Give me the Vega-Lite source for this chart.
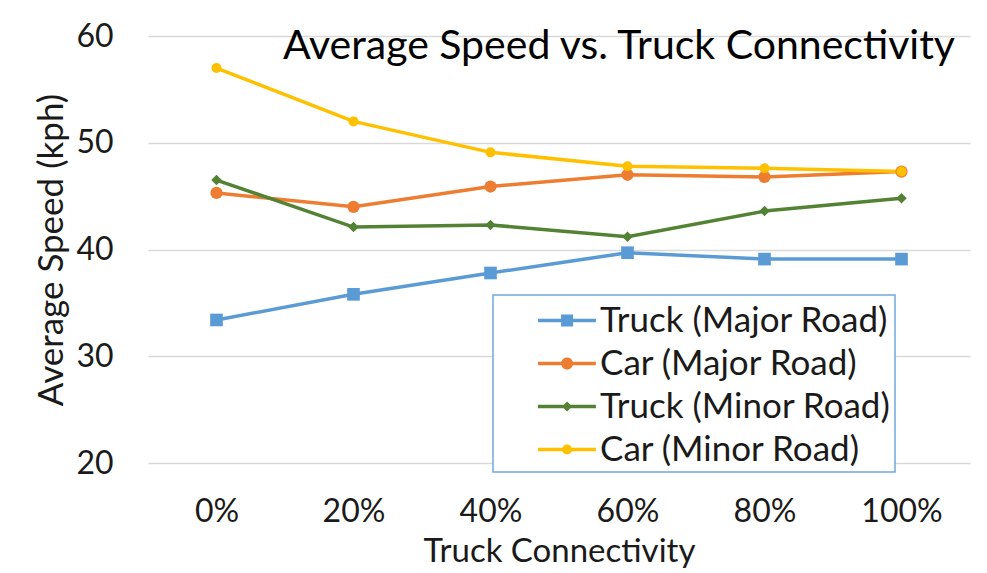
{
  "$schema": "https://vega.github.io/schema/vega-lite/v6.json",
  "width": 822,
  "height": 427,
  "autosize": "none",
  "padding": {"left": 148, "top": 36, "right": 17, "bottom": 110},
  "background": "white",
  "config": {
    "font": "Lato",
    "view": {"stroke": null},
    "legend": {"strokeColor": "#6fa8dc", "strokeWidth": 1.5}
  },
  "title": {
    "text": "Average Speed vs. Truck Connectivity",
    "anchor": "end",
    "fontSize": 41,
    "fontWeight": "normal",
    "color": "#000000",
    "baseline": "alphabetic",
    "offset": -24,
    "dy": 56,
    "dx": -15
  },
  "data": {
    "values": [
      {"conn": "0%", "series": "Truck (Major Road)", "speed": 33.4},
      {"conn": "20%", "series": "Truck (Major Road)", "speed": 35.8},
      {"conn": "40%", "series": "Truck (Major Road)", "speed": 37.8},
      {"conn": "60%", "series": "Truck (Major Road)", "speed": 39.7},
      {"conn": "80%", "series": "Truck (Major Road)", "speed": 39.1},
      {"conn": "100%", "series": "Truck (Major Road)", "speed": 39.1},
      {"conn": "0%", "series": "Car (Major Road)", "speed": 45.3},
      {"conn": "20%", "series": "Car (Major Road)", "speed": 44.0},
      {"conn": "40%", "series": "Car (Major Road)", "speed": 45.9},
      {"conn": "60%", "series": "Car (Major Road)", "speed": 47.0},
      {"conn": "80%", "series": "Car (Major Road)", "speed": 46.8},
      {"conn": "100%", "series": "Car (Major Road)", "speed": 47.3},
      {"conn": "0%", "series": "Truck (Minor Road)", "speed": 46.5},
      {"conn": "20%", "series": "Truck (Minor Road)", "speed": 42.1},
      {"conn": "40%", "series": "Truck (Minor Road)", "speed": 42.3},
      {"conn": "60%", "series": "Truck (Minor Road)", "speed": 41.2},
      {"conn": "80%", "series": "Truck (Minor Road)", "speed": 43.6},
      {"conn": "100%", "series": "Truck (Minor Road)", "speed": 44.8},
      {"conn": "0%", "series": "Car (Minor Road)", "speed": 57.0},
      {"conn": "20%", "series": "Car (Minor Road)", "speed": 52.0},
      {"conn": "40%", "series": "Car (Minor Road)", "speed": 49.1},
      {"conn": "60%", "series": "Car (Minor Road)", "speed": 47.8},
      {"conn": "80%", "series": "Car (Minor Road)", "speed": 47.6},
      {"conn": "100%", "series": "Car (Minor Road)", "speed": 47.3}
    ]
  },
  "encoding": {
    "x": {
      "field": "conn",
      "type": "ordinal",
      "sort": ["0%", "20%", "40%", "60%", "80%", "100%"],
      "scale": {"type": "point", "padding": 0.5},
      "axis": {
        "title": "Truck Connectivity",
        "titleFontSize": 33,
        "titleFontWeight": "normal",
        "titleColor": "#1a1a1a",
        "titlePadding": 8,
        "labelFontSize": 32,
        "labelColor": "#1a1a1a",
        "labelAngle": 0,
        "labelPadding": 33,
        "domain": false,
        "ticks": false,
        "grid": false
      }
    },
    "y": {
      "field": "speed",
      "type": "quantitative",
      "scale": {"domain": [20, 60], "nice": false, "zero": false},
      "axis": {
        "values": [20, 30, 40, 50, 60],
        "title": "Average Speed (kph)",
        "titleFontSize": 35,
        "titleFontWeight": "normal",
        "titleColor": "#1a1a1a",
        "titlePadding": 6,
        "labelFontSize": 32,
        "labelColor": "#1a1a1a",
        "labelPadding": 35,
        "domain": false,
        "ticks": false,
        "grid": true,
        "gridColor": "#d9d9d9",
        "gridWidth": 1.5
      }
    },
    "color": {
      "field": "series",
      "type": "nominal",
      "scale": {
        "domain": ["Truck (Major Road)", "Car (Major Road)", "Truck (Minor Road)", "Car (Minor Road)"],
        "range": ["#5b9bd5", "#ed7d31", "#548235", "#ffc000"]
      },
      "legend": {
        "title": null,
        "orient": "none",
        "legendX": 345,
        "legendY": 259,
        "direction": "vertical",
        "strokeColor": "#6fa8dc",
        "fillColor": "white",
        "padding": 4,
        "labelFontSize": 35,
        "labelColor": "#1a1a1a",
        "labelLimit": 600,
        "labelOffset": 60,
        "symbolSize": 1849,
        "rowPadding": 3,
        "encode": {
          "legend": {
            "update": {
              "stroke": {"value": "#6fa8dc"},
              "strokeWidth": {"value": 1.5}
            }
          },
          "symbols": {
            "update": {
              "shape": {"signal": "datum.value === 'Truck (Major Road)' ? 'M0.907,-0.08H3.6V0.08H0.907Z M1.98,-0.28H2.54V0.28H1.98Z' : datum.value === 'Car (Major Road)' ? 'M0.907,-0.08H3.6V0.08H0.907Z M1.98,0A0.28,0.28 0 1,1 2.54,0A0.28,0.28 0 1,1 1.98,0Z' : datum.value === 'Truck (Minor Road)' ? 'M0.907,-0.08H3.6V0.08H0.907Z M2.26,-0.23L2.49,0L2.26,0.23L2.03,0Z' : 'M0.907,-0.08H3.6V0.08H0.907Z M2.03,0A0.23,0.23 0 1,1 2.49,0A0.23,0.23 0 1,1 2.03,0Z'"},
              "size": {"value": 1849},
              "fill": {"scale": "color", "field": "value"},
              "fillOpacity": {"value": 1},
              "strokeWidth": {"value": 0}
            }
          }
        }
      }
    }
  },
  "layer": [
    {
      "mark": {"type": "line", "strokeWidth": 3.5},
      "encoding": {}
    },
    {
      "transform": [{"filter": "datum.series === 'Truck (Major Road)'"}],
      "mark": {"type": "point", "filled": true, "opacity": 1, "shape": "square", "size": 160},
      "encoding": {}
    },
    {
      "transform": [{"filter": "datum.series === 'Car (Major Road)'"}],
      "mark": {"type": "point", "filled": true, "opacity": 1, "shape": "circle", "size": 150},
      "encoding": {}
    },
    {
      "transform": [{"filter": "datum.series === 'Truck (Minor Road)'"}],
      "mark": {"type": "point", "filled": true, "opacity": 1, "shape": "diamond", "size": 110},
      "encoding": {}
    },
    {
      "transform": [{"filter": "datum.series === 'Car (Minor Road)'"}],
      "mark": {"type": "point", "filled": true, "opacity": 1, "shape": "circle", "size": 100},
      "encoding": {}
    }
  ]
}
